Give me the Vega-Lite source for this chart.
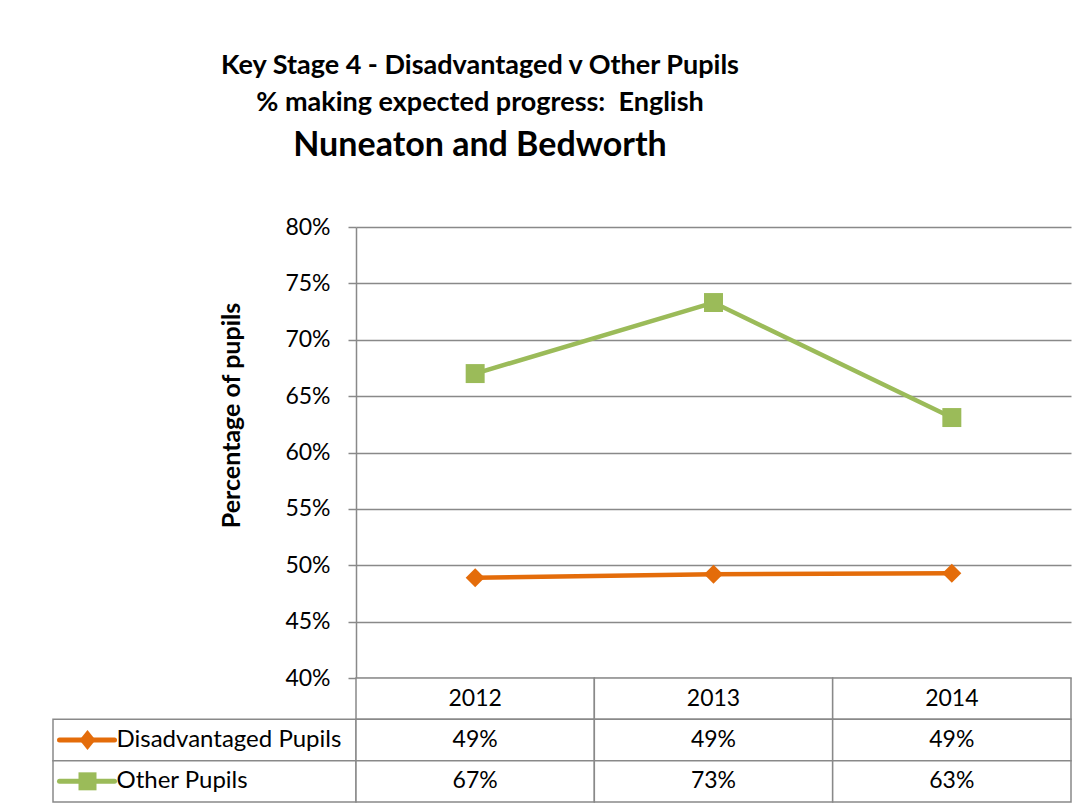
{
  "$schema": "https://vega.github.io/schema/vega-lite/v6.json",
  "padding": {"left": 52, "top": 52, "right": 18, "bottom": 4},
  "background": "white",
  "config": {
    "font": "Lato",
    "view": {"stroke": null},
    "text": {"font": "Lato"}
  },
  "title": {
    "text": ["Key Stage 4 - Disadvantaged v Other Pupils", "% making expected progress:\u00a0 English"],
    "subtitle": "Nuneaton and Bedworth",
    "fontSize": 27,
    "fontWeight": "bold",
    "lineHeight": 37,
    "color": "black",
    "subtitleFontSize": 34,
    "subtitleFontWeight": "bold",
    "subtitleColor": "black",
    "subtitlePadding": 12,
    "anchor": "middle",
    "dx": -82,
    "offset": 52
  },
  "datasets": {
    "pupils": [
      {"series": "Disadvantaged Pupils", "year": "2012", "value": 0.489},
      {"series": "Disadvantaged Pupils", "year": "2013", "value": 0.492},
      {"series": "Disadvantaged Pupils", "year": "2014", "value": 0.493},
      {"series": "Other Pupils", "year": "2012", "value": 0.670},
      {"series": "Other Pupils", "year": "2013", "value": 0.733},
      {"series": "Other Pupils", "year": "2014", "value": 0.631}
    ]
  },
  "columns": 2,
  "spacing": 0,
  "bounds": "flush",
  "resolve": {"scale": {"color": "independent", "y": "independent", "x": "independent"}},
  "concat": [
    {
      "width": 303,
      "height": 451,
      "data": {"values": []},
      "mark": "point",
      "encoding": {}
    },
    {
      "width": 715,
      "height": 451,
      "data": {"name": "pupils"},
      "encoding": {
        "x": {"field": "year", "type": "ordinal", "scale": {"type": "point", "padding": 0.5}, "axis": null},
        "y": {
          "field": "value",
          "type": "quantitative",
          "scale": {"domain": [0.4, 0.8], "zero": false, "nice": false},
          "axis": {
            "values": [0.4, 0.45, 0.5, 0.55, 0.6, 0.65, 0.7, 0.75, 0.8],
            "format": ".0%",
            "grid": true,
            "gridColor": "#898989",
            "gridWidth": 1.5,
            "gridOpacity": 1,
            "domainColor": "#898989",
            "domainWidth": 1.5,
            "tickColor": "#898989",
            "tickWidth": 1.5,
            "tickSize": 8,
            "labelFontSize": 23,
            "labelColor": "black",
            "labelPadding": 18,
            "title": "Percentage of pupils",
            "titleFontSize": 25,
            "titleFontWeight": "bold",
            "titleColor": "black",
            "titleAngle": 270,
            "titleX": -125,
            "titleY": 188,
            "titleAlign": "center",
            "titleBaseline": "middle"
          }
        },
        "color": {
          "field": "series",
          "type": "nominal",
          "scale": {"domain": ["Disadvantaged Pupils", "Other Pupils"], "range": ["#E46C0A", "#9BBB59"]},
          "legend": null
        }
      },
      "layer": [
        {"mark": {"type": "line", "strokeWidth": 4.5}},
        {
          "mark": {"type": "point", "filled": true, "opacity": 1, "size": 360},
          "encoding": {
            "shape": {
              "field": "series",
              "type": "nominal",
              "scale": {"domain": ["Disadvantaged Pupils", "Other Pupils"], "range": ["diamond", "square"]},
              "legend": null
            }
          }
        }
      ]
    },
    {
      "width": 303,
      "height": 124,
      "data": {"name": "pupils"},
      "transform": [{"aggregate": [{"op": "count", "as": "n"}], "groupby": ["series"]}],
      "encoding": {
        "y": {
          "field": "series",
          "type": "nominal",
          "scale": {"domain": ["header", "Disadvantaged Pupils", "Other Pupils"], "paddingInner": 0, "paddingOuter": 0},
          "axis": null
        }
      },
      "layer": [
        {"mark": {"type": "rect", "fill": "white", "stroke": "#898989", "strokeWidth": 1.5}},
        {"mark": {"type": "text", "align": "left", "baseline": "middle", "dx": -88, "fontSize": 24, "color": "black"}, "encoding": {"text": {"field": "series"}}},
        {
          "mark": {"type": "point", "shape": "M-145,0L-90,0", "size": 4, "filled": false, "strokeWidth": 5, "strokeCap": "round", "strokeJoin": "round", "opacity": 1},
          "encoding": {
            "color": {
              "field": "series",
              "type": "nominal",
              "scale": {"domain": ["Disadvantaged Pupils", "Other Pupils"], "range": ["#E46C0A", "#9BBB59"]},
              "legend": null
            }
          }
        },
        {
          "transform": [{"filter": "datum.series === 'Disadvantaged Pupils'"}],
          "mark": {"type": "point", "shape": "M-117,-10L-109,0L-117,10L-125,0Z", "size": 4, "filled": true, "fill": "#E46C0A", "strokeWidth": 0, "opacity": 1}
        },
        {
          "transform": [{"filter": "datum.series === 'Other Pupils'"}],
          "mark": {"type": "point", "shape": "M-126,-9L-108,-9L-108,9L-126,9Z", "size": 4, "filled": true, "fill": "#9BBB59", "strokeWidth": 0, "opacity": 1}
        }
      ]
    },
    {
      "width": 715,
      "height": 124,
      "data": {"name": "pupils"},
      "encoding": {
        "x": {"field": "year", "type": "ordinal", "scale": {"type": "band", "paddingInner": 0, "paddingOuter": 0}, "axis": null}
      },
      "layer": [
        {
          "transform": [{"aggregate": [{"op": "count", "as": "n"}], "groupby": ["year"]}],
          "layer": [
            {
              "mark": {"type": "rect", "fill": "white", "stroke": "#898989", "strokeWidth": 1.5},
              "encoding": {"y": {"datum": "header", "type": "nominal", "scale": {"domain": ["header", "Disadvantaged Pupils", "Other Pupils"], "paddingInner": 0, "paddingOuter": 0}, "axis": null}}
            },
            {
              "mark": {"type": "text", "fontSize": 23, "color": "black", "baseline": "middle"},
              "encoding": {
                "y": {"datum": "header", "type": "nominal", "axis": null},
                "text": {"field": "year"}
              }
            }
          ]
        },
        {
          "mark": {"type": "rect", "fill": "white", "stroke": "#898989", "strokeWidth": 1.5},
          "encoding": {"y": {"field": "series", "type": "nominal", "axis": null}}
        },
        {
          "mark": {"type": "text", "fontSize": 23, "color": "black", "baseline": "middle"},
          "encoding": {
            "y": {"field": "series", "type": "nominal", "axis": null},
            "text": {"field": "value", "type": "quantitative", "format": ".0%"}
          }
        }
      ]
    }
  ]
}
